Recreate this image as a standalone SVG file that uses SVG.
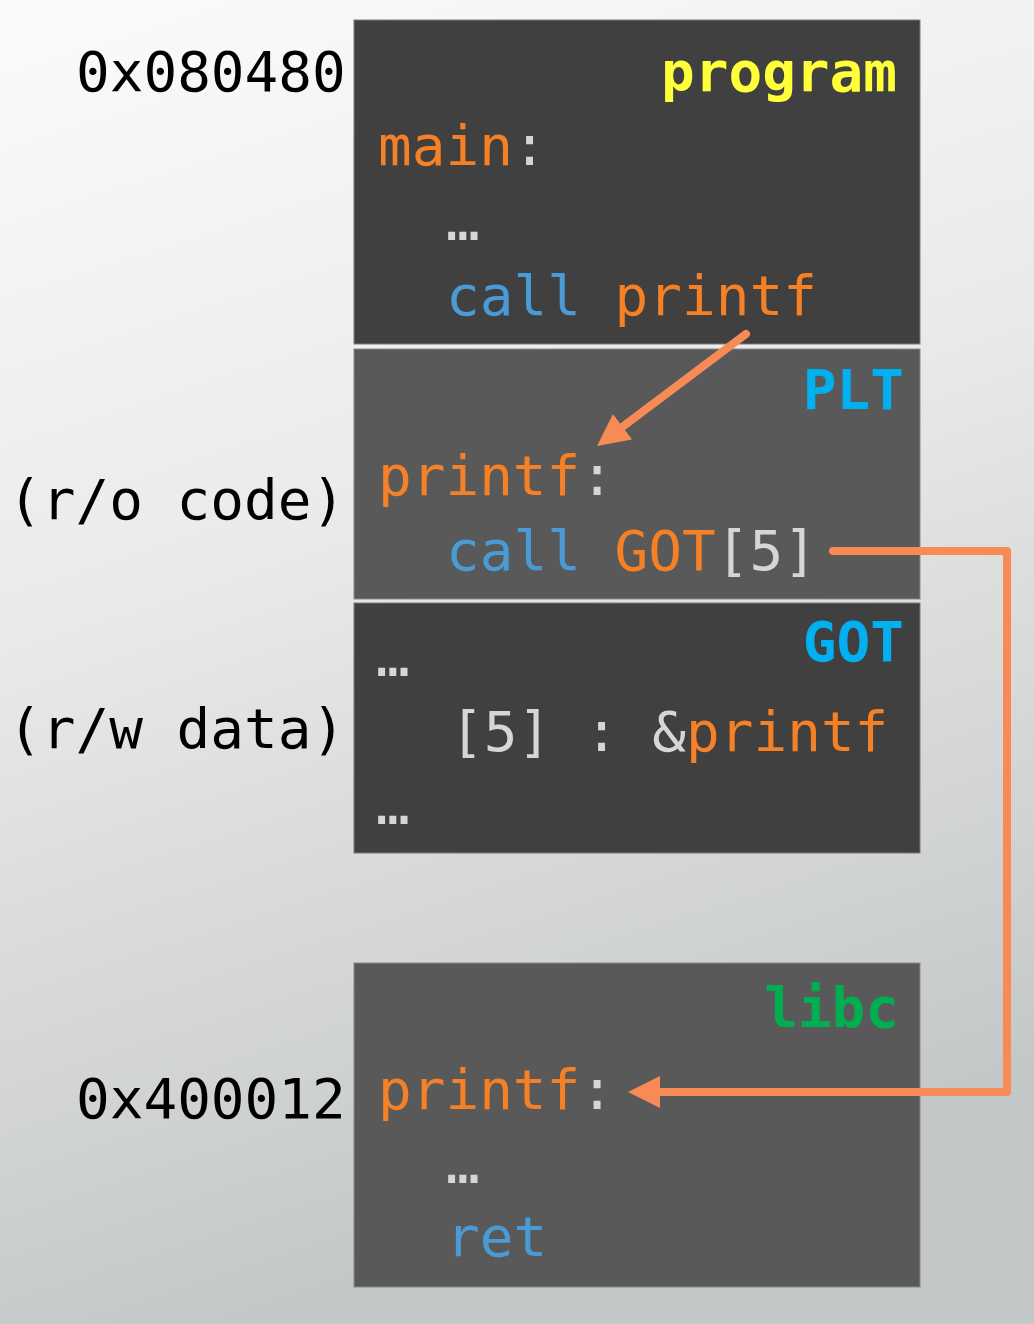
<svg xmlns="http://www.w3.org/2000/svg" width="1034" height="1324" viewBox="0 0 1034 1324">
  <defs>
    <linearGradient id="bg" x1="0" y1="0" x2="0.25" y2="1">
      <stop offset="0" stop-color="#FBFBFB"/>
      <stop offset="0.45" stop-color="#E9EAEA"/>
      <stop offset="1" stop-color="#C4C7C8"/>
    </linearGradient>
    <marker id="ah" viewBox="0 0 10 10" refX="3" refY="5" markerWidth="4" markerHeight="4" markerUnits="strokeWidth" orient="auto">
      <path d="M0,0 L10,5 L0,10 z" fill="#F88A55"/>
    </marker>
    <style>
      text { font-family: "DejaVu Sans Mono", "Liberation Mono", monospace; font-size: 56px; }
      .lbl { fill: #000000; }
      .box-dark { fill: #404040; stroke: #7A7A7A; stroke-width: 1; }
      .box-light { fill: #595959; stroke: #8A8A8A; stroke-width: 1; }
      .title { font-weight: bold; text-anchor: end; }
      .o { fill: #F58025; }
      .b { fill: #4A9BD5; }
      .g { fill: #D6D6D6; }
      .conn { fill: none; stroke: #F88A55; stroke-width: 8; stroke-linecap: round; stroke-linejoin: round; }
    </style>
  </defs>

  <rect x="0" y="0" width="1034" height="1324" fill="url(#bg)"/>

  <g id="side-labels">
    <text class="lbl" x="76" y="91">0x080480</text>
    <text class="lbl" x="8" y="519">(r/o code)</text>
    <text class="lbl" x="8" y="748">(r/w data)</text>
    <text class="lbl" x="76" y="1118">0x400012</text>
  </g>

  <g id="program">
    <rect class="box-dark" x="354" y="20" width="566" height="324"/>
    <text class="title" x="897" y="91" fill="#FFFF3A">program</text>
    <text x="378" y="165"><tspan class="o">main</tspan><tspan class="g">:</tspan></text>
    <text class="g" x="446" y="240">…</text>
    <text x="446" y="315"><tspan class="b">call </tspan><tspan class="o">printf</tspan></text>
  </g>

  <g id="plt">
    <rect class="box-light" x="354" y="349" width="566" height="250"/>
    <text class="title" x="904" y="409" fill="#00B0F0">PLT</text>
    <text x="378" y="495"><tspan class="o">printf</tspan><tspan class="g">:</tspan></text>
    <text x="446" y="570"><tspan class="b">call </tspan><tspan class="o">GOT</tspan><tspan class="g">[5]</tspan></text>
  </g>

  <g id="got">
    <rect class="box-dark" x="354" y="603" width="566" height="250"/>
    <text class="title" x="904" y="661" fill="#00B0F0">GOT</text>
    <text class="g" x="376" y="676">…</text>
    <text x="450" y="751"><tspan class="g">[5] : &amp;</tspan><tspan class="o">printf</tspan></text>
    <text class="g" x="376" y="824">…</text>
  </g>

  <g id="libc">
    <rect class="box-light" x="354" y="963" width="566" height="324"/>
    <text class="title" x="899" y="1027" fill="#00B050">libc</text>
    <text x="378" y="1109"><tspan class="o">printf</tspan><tspan class="g">:</tspan></text>
    <text class="g" x="446" y="1183">…</text>
    <text class="b" x="446" y="1256">ret</text>
  </g>

  <g id="connectors">
    <path class="conn" d="M746,334 L614.9,432.5" marker-end="url(#ah)"/>
    <path class="conn" d="M833,551 H1007 V1092 H650.4" marker-end="url(#ah)"/>
  </g>
</svg>
